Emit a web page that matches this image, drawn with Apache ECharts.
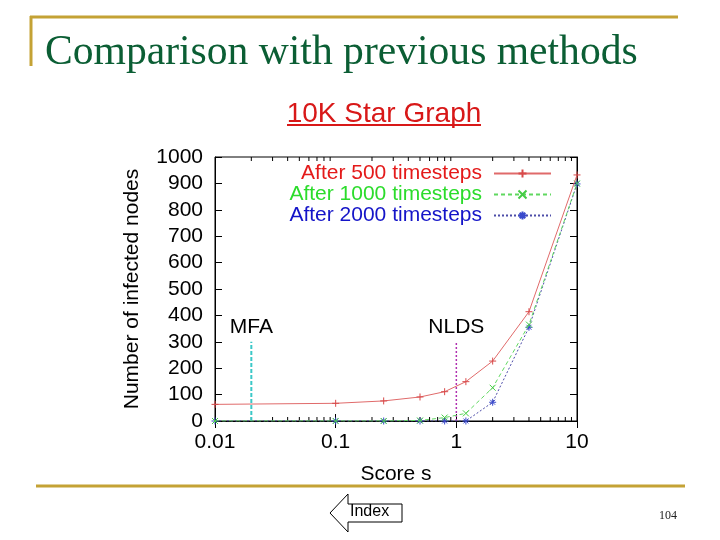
<!DOCTYPE html>
<html lang="en">
<head>
    <meta charset="UTF-8">
    <title>Comparison with previous methods</title>
    <style>
        * { margin: 0; padding: 0; }
        body { background: #fff; }
        #main { width: 720px; height: 540px; }
    </style>
    <script src="https://cdn.jsdelivr.net/npm/echarts@6/dist/echarts.min.js"></script>
</head>
<body>
<div id="main"></div>
<script>
    // score values (x, log scale)
    var scores = [0.01, 0.1, 0.25, 0.5, 0.8, 1.2, 2, 4, 10];
    // infected nodes per run length
    var after500 = [63, 67, 76, 91, 111, 149, 227, 414, 932];
    var after1000 = [0, 0, 0, 2, 13, 29, 126, 365, 900];
    var after2000 = [0, 0, 0, 0, 0, 0, 71, 355, 898];
    var seriesNames = ['After 500 timesteps', 'After 1000 timesteps', 'After 2000 timesteps'];
    // reference methods
    var mfaScore = 0.02;
    var nldsScore = 1;
    var refHeight = 300;
    // minor ticks of the log axis
    var minorTicks = [0.02, 0.03, 0.04, 0.05, 0.06, 0.07, 0.08, 0.09,
        0.2, 0.3, 0.4, 0.5, 0.6, 0.7, 0.8, 0.9,
        2, 3, 4, 5, 6, 7, 8, 9];

    var font = 'Liberation Sans, Arial, sans-serif';
    var gold = '#c4a235';
    var fs = 21;

    function pairs(ys) {
        return scores.map(function (x, i) { return [x, ys[i]]; });
    }

    var plusSym = 'path://M5,0L5,10M0,5L10,5';
    var crossSym = 'path://M0,0L10,10M10,0L0,10';
    var starSym = 'path://M5,0L5,10M0,5L10,5M1.5,1.5L8.5,8.5M8.5,1.5L1.5,8.5';

    var myChart = echarts.init(document.getElementById('main'));

    var xAxisBase = {
        type: 'log',
        logBase: 10,
        min: 0.01,
        max: 10,
        axisLine: { show: true, lineStyle: { color: '#000', width: 1 } },
        axisTick: { show: true, inside: true, length: 7, lineStyle: { color: '#000' } },
        splitLine: { show: false },
        minorTick: { show: false }
    };
    var yAxisBase = {
        type: 'value',
        min: 0,
        max: 1000,
        interval: 100,
        axisLine: { show: true, lineStyle: { color: '#000', width: 1 } },
        axisTick: { show: true, inside: true, length: 7, lineStyle: { color: '#000' } },
        splitLine: { show: false }
    };

    function refLine(name, x, color, width, dash) {
        return {
            name: name,
            type: 'line',
            data: [
                { value: [x, 0], label: { show: false } },
                { value: [x, refHeight], label: { show: true } }
            ],
            symbol: 'circle',
            symbolSize: 1,
            itemStyle: { color: 'transparent' },
            lineStyle: { color: color, width: width, type: dash },
            label: {
                position: 'top', distance: 4,
                formatter: name, fontSize: fs, color: '#000', fontFamily: font
            },
            silent: true,
            z: 2
        };
    }

    var option = {
        animation: false,
        textStyle: { fontFamily: font },
        title: [
            {
                text: 'Comparison with previous methods',
                left: 40,
                top: 27,
                textStyle: {
                    fontFamily: 'Liberation Serif, Times New Roman, serif',
                    fontSize: 41.6,
                    fontWeight: 'normal',
                    color: '#0b5e34'
                }
            },
            {
                text: '10K Star Graph',
                left: 379,
                top: 95,
                textAlign: 'center',
                textStyle: {
                    fontFamily: font,
                    fontSize: 28,
                    fontWeight: 'normal',
                    color: '#d81818'
                }
            }
        ],
        legend: {
            orient: 'vertical',
            right: 168,
            top: 163,
            align: 'right',
            padding: 0,
            itemWidth: 57,
            itemHeight: 10,
            itemGap: 0,
            data: [
                { name: seriesNames[0], textStyle: { color: '#e41a1a' } },
                { name: seriesNames[1], textStyle: { color: '#2bdc2b' } },
                { name: seriesNames[2], textStyle: { color: '#1414c8' } }
            ],
            textStyle: {
                fontSize: fs, fontFamily: font, width: 220, align: 'right',
                lineHeight: 21, padding: [0, 7, 0, 0]
            }
        },
        grid: {
            left: 215,
            right: 143,
            top: 157,
            bottom: 119,
            show: true,
            borderColor: '#000',
            borderWidth: 1,
            backgroundColor: 'transparent'
        },
        xAxis: [
            Object.assign({}, xAxisBase, {
                position: 'bottom',
                name: 'Score s',
                nameLocation: 'middle',
                nameGap: 43,
                nameTextStyle: { fontSize: fs, color: '#000', fontFamily: font },
                axisLabel: {
                    fontSize: fs, color: '#000', margin: 11, fontFamily: font,
                    formatter: function (v) { return String(v); }
                }
            }),
            Object.assign({}, xAxisBase, { position: 'top', axisLabel: { show: false } })
        ],
        yAxis: [
            Object.assign({}, yAxisBase, {
                position: 'left',
                name: 'Number of infected nodes',
                nameLocation: 'middle',
                nameGap: 72,
                nameTextStyle: { fontSize: fs, color: '#000', fontFamily: font },
                axisLabel: {
                    fontSize: fs, color: '#000', margin: 12, fontFamily: font,
                    formatter: function (v) { return String(v); }
                }
            }),
            Object.assign({}, yAxisBase, { position: 'right', axisLabel: { show: false } })
        ],
        series: [
            {
                name: seriesNames[0],
                type: 'line',
                data: pairs(after500),
                symbol: plusSym,
                symbolSize: 7,
                showAllSymbol: true,
                lineStyle: { color: '#e06a6a', width: 1 },
                itemStyle: { color: '#d84a4a', borderColor: '#d84a4a', borderWidth: 1 },
                z: 5
            },
            {
                name: seriesNames[1],
                type: 'line',
                data: pairs(after1000),
                symbol: crossSym,
                symbolSize: 6,
                lineStyle: { color: '#5fd85f', width: 1, type: [4, 3] },
                itemStyle: { color: '#44cc44', borderColor: '#44cc44', borderWidth: 1 },
                z: 4
            },
            {
                name: seriesNames[2],
                type: 'line',
                data: pairs(after2000),
                symbol: starSym,
                symbolSize: 7,
                lineStyle: { color: '#4c4ca8', width: 1, type: [2, 2] },
                itemStyle: { color: '#3a4acc', borderColor: '#3a4acc', borderWidth: 1 },
                z: 3
            },
            refLine('MFA', mfaScore, '#3cc8c8', 2, [4, 2]),
            refLine('NLDS', nldsScore, '#b030b0', 1.5, [2, 2]),
            {
                // minor ticks, on bottom and top edges
                type: 'custom',
                silent: true,
                data: minorTicks.map(function (v) { return [v, 0]; }),
                renderItem: function (params, api) {
                    var b = api.coord([api.value(0), 0]);
                    var t = api.coord([api.value(0), 1000]);
                    var st = { stroke: '#000', lineWidth: 1 };
                    return {
                        type: 'group',
                        children: [
                            { type: 'line', shape: { x1: b[0], y1: b[1], x2: b[0], y2: b[1] - 4 }, style: st },
                            { type: 'line', shape: { x1: t[0], y1: t[1], x2: t[0], y2: t[1] + 4 }, style: st }
                        ]
                    };
                },
                z: 1
            }
        ],
        graphic: [
            // slide frame
            { type: 'line', shape: { x1: 30, y1: 17, x2: 678, y2: 17 }, style: { stroke: gold, lineWidth: 3 } },
            { type: 'line', shape: { x1: 31, y1: 16, x2: 31, y2: 66 }, style: { stroke: gold, lineWidth: 3 } },
            { type: 'line', shape: { x1: 36, y1: 486, x2: 685, y2: 486 }, style: { stroke: gold, lineWidth: 3 } },
            // underline of subtitle
            { type: 'line', shape: { x1: 287, y1: 125, x2: 481, y2: 125 }, style: { stroke: '#d81818', lineWidth: 2 } },
            // index arrow button
            {
                type: 'polygon',
                shape: { points: [[330, 513], [348, 494], [348, 504], [402, 504], [402, 522], [348, 522], [348, 532]] },
                style: { fill: '#fff', stroke: '#000', lineWidth: 1 }
            },
            {
                type: 'text', left: 350, top: 504,
                style: { text: 'Index', fontSize: 16, fontFamily: font, fill: '#000' }
            },
            {
                type: 'text', left: 659, top: 510,
                style: { text: '104', fontSize: 12, fontFamily: 'Liberation Serif, serif', fill: '#222' }
            }
        ]
    };

    myChart.setOption(option);
</script>
</body>
</html>
